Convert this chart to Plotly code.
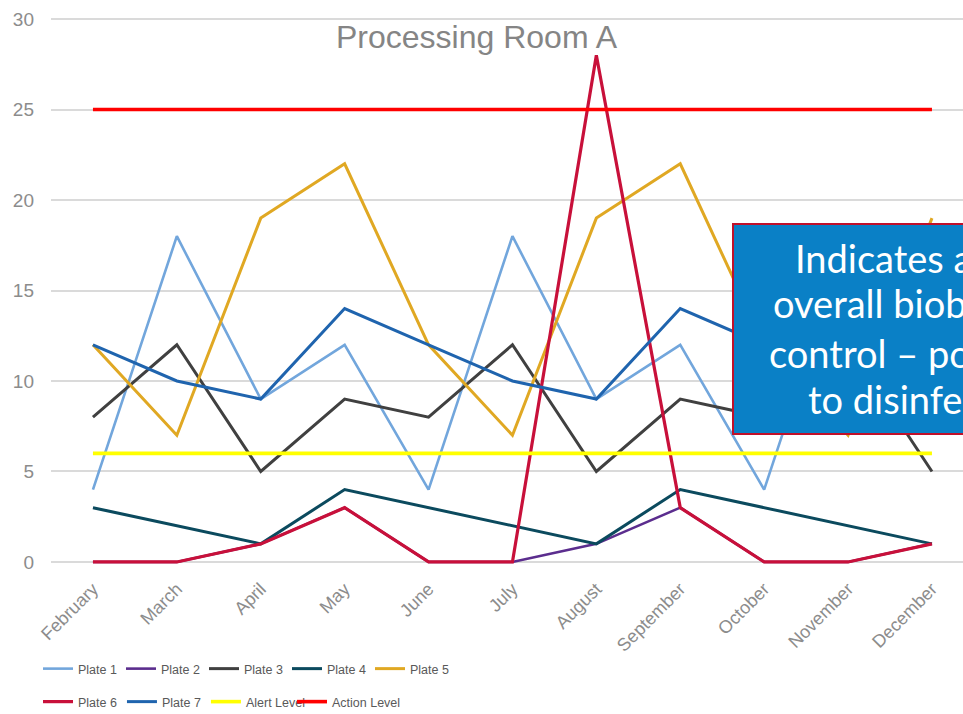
import plotly.graph_objects as go

months = ["February", "March", "April", "May", "June", "July", "August",
          "September", "October", "November", "December"]

plate1 = [4, 18, 9, 12, 4, 18, 9, 12, 4, 18, 9]
plate2 = [0, 0, 1, 3, 0, 0, 1, 3, 0, 0, 1]
plate3 = [8, 12, 5, 9, 8, 12, 5, 9, 8, 12, 5]
plate4 = [3, 2, 1, 4, 3, 2, 1, 4, 3, 2, 1]
plate5 = [12, 7, 19, 22, 12, 7, 19, 22, 12, 7, 19]
plate6 = [0, 0, 1, 3, 0, 0, 28, 3, 0, 0, 1]
plate7 = [12, 10, 9, 14, 12, 10, 9, 14, 12, 10, 9]
alert_level = [6, 6, 6, 6, 6, 6, 6, 6, 6, 6, 6]
action_level = [25, 25, 25, 25, 25, 25, 25, 25, 25, 25, 25]

series = [
    ("Plate 1", plate1, "#72A6DC", 2.6, "legend"),
    ("Plate 2", plate2, "#5B2D8E", 2.6, "legend"),
    ("Plate 3", plate3, "#404040", 3.0, "legend"),
    ("Plate 4", plate4, "#0B4A5E", 3.0, "legend"),
    ("Plate 5", plate5, "#E0A823", 3.0, "legend"),
    ("Plate 6", plate6, "#C8103A", 3.2, "legend2"),
    ("Plate 7", plate7, "#1F64AE", 3.0, "legend2"),
    ("Alert Level", alert_level, "#FFFF00", 3.6, "legend2"),
    ("Action Level", action_level, "#FF0000", 3.6, "legend3"),
]

W, H = 963, 714
ML, MR, MT, MB = 51, 0, 10, 143
PW, PH = W - ML - MR, H - MT - MB


def px(x):
    return (x - ML) / PW


def py(y):
    return (H - MB - y) / PH


fig = go.Figure()
for name, vals, color, width, leg in series:
    fig.add_trace(go.Scatter(
        x=months, y=vals, name=name, mode="lines",
        line=dict(color=color, width=width),
        legend=leg,
    ))

legend_font = dict(family="Liberation Sans, Arial", size=12.5, color="#595959")

fig.update_layout(
    width=W, height=H,
    margin=dict(l=ML, r=MR, t=MT, b=MB, autoexpand=False),
    paper_bgcolor="white", plot_bgcolor="white",
    font=dict(family="Liberation Sans, Arial", color="#808080"),
    xaxis=dict(range=[-0.5, 10.37], showgrid=False, showline=False,
               zeroline=False, tickangle=-45, automargin=False,
               tickfont=dict(size=18, color="#8C8C8C"),
               ticks="", ticklabelstandoff=3),
    yaxis=dict(range=[-0.5, 30.5], tickvals=[0, 5, 10, 15, 20, 25, 30],
               showgrid=True, gridcolor="#DADADA", gridwidth=1.5,
               zeroline=False, showline=False, ticks="", automargin=False,
               tickfont=dict(size=19, color="#8C8C8C"),
               ticklabelstandoff=16),
    legend=dict(orientation="h", x=px(38), y=py(669), xanchor="left",
                yanchor="middle", font=legend_font,
                entrywidth=38, entrywidthmode="pixels",
                bgcolor="rgba(0,0,0,0)"),
    legend2=dict(orientation="h", x=px(38), y=py(702), xanchor="left",
                 yanchor="middle", font=legend_font,
                 bgcolor="rgba(0,0,0,0)"),
    legend3=dict(orientation="h", x=px(292), y=py(702), xanchor="left",
                 yanchor="middle", font=legend_font,
                 bgcolor="rgba(0,0,0,0)"),
    showlegend=True,
)

fig.add_annotation(
    text="Processing Room A", xref="paper", yref="paper",
    x=px(477), y=py(37), xanchor="center", yanchor="middle",
    showarrow=False,
    font=dict(family="Liberation Sans, Arial", size=32, color="#858585"),
)

# Callout box
fig.add_shape(
    type="rect", xref="paper", yref="paper",
    x0=px(733), x1=px(1010), y0=py(434), y1=py(224),
    fillcolor="#0A80C6", line=dict(color="#C0102A", width=2),
    layer="above",
)

callout_lines = ["Indicates a loss of", "overall bioburden",
                 "control \u2013 possibly due", "to disinfectant"]
line_x = [793, 771, 767, 806]
line_y = [258, 303, 353, 399]
for t, lx, ly in zip(callout_lines, line_x, line_y):
    fig.add_annotation(
        text=t, xref="paper", yref="paper", x=px(lx), y=py(ly),
        xanchor="left", yanchor="middle", showarrow=False,
        font=dict(family="Lato, Open Sans, sans-serif", size=38,
                  color="white"),
    )

fig.write_html("out.html",
               config={"displayModeBar": False},
               post_script="document.body.style.margin='0px';"
                           "document.body.style.overflow='hidden';")
